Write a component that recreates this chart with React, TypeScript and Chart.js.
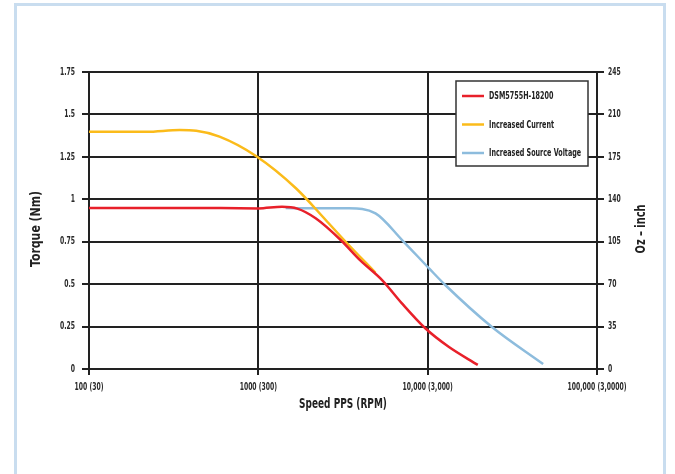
import React, { useEffect, useRef } from "react";
import { Chart, registerables } from "chart.js";

Chart.register(...registerables);

const xTickValues = [100, 1000, 10000, 100000];
const xTickLabels = ["100 (30)", "1000 (300)", "10,000 (3,000)", "100,000 (3,0000)"];

const seriesNames = ["DSM5755H-18200", "Increased Current", "Increased Source Voltage"];
const seriesColors = ["#e8202a", "#fbbb1a", "#8dbcdd"];

const redSpeed = [100, 300, 600, 1000, 1380, 1700, 2180, 3065, 4000, 5380, 7000, 9680, 13300, 19770];
const redTorque = [0.948, 0.948, 0.948, 0.946, 0.956, 0.945, 0.888, 0.76, 0.64, 0.524, 0.39, 0.24, 0.131, 0.024];

const yellowSpeed = [100, 218, 343, 430, 590, 968, 1667, 2500, 3206, 4921];
const yellowTorque = [1.398, 1.398, 1.408, 1.404, 1.369, 1.255, 1.065, 0.878, 0.76, 0.567];

const blueSpeed = [1450, 2200, 3434, 4921, 7060, 10190, 12700, 23870, 48080];
const blueTorque = [0.948, 0.947, 0.947, 0.917, 0.76, 0.593, 0.495, 0.249, 0.029];

const yLeftMax = 1.75;
const yLeftStep = 0.25;
const yRightMax = 245;
const yRightStep = 35;

const xTitle = "Speed PPS (RPM)";
const yLeftTitle = "Torque (Nm)";
const yRightTitle = "Oz \u2013 inch";

const FONT = "'DejaVu Sans', sans-serif";
const TICK_SX = 0.58;

const toPoints = (xs: number[], ys: number[]) => xs.map((x, i) => ({ x, y: ys[i] }));

// condensed text rendering: squeeze glyphs horizontally around their anchor
const condensePlugin = {
  id: "condense",
  beforeDraw(chart: any) {
    const ctx = chart.ctx as any;
    if (ctx.__patched) return;
    ctx.__patched = true;
    const orig = ctx.fillText.bind(ctx);
    ctx.fillText = (text: string, x: number, y: number) => {
      const sx = ctx.__sx ?? TICK_SX;
      ctx.save();
      ctx.translate(x, y);
      ctx.scale(sx, 1);
      orig(text, 0, 0);
      ctx.restore();
    };
  },
};

const overlayPlugin = {
  id: "overlay",
  afterDraw(chart: any) {
    const ctx = chart.ctx as any;
    const area = chart.chartArea;
    ctx.save();
    ctx.fillStyle = "#222";
    ctx.font = `bold 14px ${FONT}`;
    ctx.textAlign = "center";
    ctx.textBaseline = "middle";
    ctx.__sx = 0.64;
    ctx.fillText(xTitle, (area.left + area.right) / 2, 404);
    const cy = 229;
    ctx.save();
    ctx.translate(36, cy);
    ctx.rotate(-Math.PI / 2);
    ctx.__sx = 0.78;
    ctx.fillText(yLeftTitle, 0, 0);
    ctx.restore();
    ctx.save();
    ctx.translate(641, cy);
    ctx.rotate(-Math.PI / 2);
    ctx.__sx = 0.7;
    ctx.fillText(yRightTitle, 0, 0);
    ctx.restore();

    const bx = 456, by = 81, bw = 132, bh = 85;
    ctx.fillStyle = "#fff";
    ctx.fillRect(bx, by, bw, bh);
    ctx.strokeStyle = "#333";
    ctx.lineWidth = 1.5;
    ctx.strokeRect(bx, by, bw, bh);
    const rows = [96, 124.5, 153];
    ctx.font = `bold 10.5px ${FONT}`;
    ctx.textAlign = "left";
    ctx.__sx = 0.61;
    chart.data.datasets.forEach((ds: any, i: number) => {
      ctx.strokeStyle = ds.borderColor;
      ctx.lineWidth = 2.5;
      ctx.beginPath();
      ctx.moveTo(462, rows[i]);
      ctx.lineTo(484, rows[i]);
      ctx.stroke();
      ctx.fillStyle = "#222";
      ctx.fillText(ds.label, 489, rows[i] + 0.5);
    });
    ctx.__sx = undefined;
    ctx.restore();
  },
};

export default function App() {
  const canvasRef = useRef<HTMLCanvasElement | null>(null);

  useEffect(() => {
    if (!canvasRef.current) return;
    const mk = (i: number, xs: number[], ys: number[]) => ({
      label: seriesNames[i],
      data: toPoints(xs, ys),
      borderColor: seriesColors[i],
      backgroundColor: seriesColors[i],
      borderWidth: 2.5,
      pointRadius: 0,
      cubicInterpolationMode: "monotone" as const,
      fill: false,
      yAxisID: "y",
    });
    const tickFont = { family: FONT, size: 10.5, weight: "bold" as const };
    const chart = new Chart(canvasRef.current, {
      type: "line",
      data: {
        datasets: [
          mk(0, redSpeed, redTorque),
          mk(1, yellowSpeed, yellowTorque),
          mk(2, blueSpeed, blueTorque),
        ],
      },
      options: {
        animation: false,
        responsive: true,
        maintainAspectRatio: false,
        layout: { padding: { top: 72, left: 0, right: 0, bottom: 0 } },
        plugins: {
          legend: { display: false },
          tooltip: { enabled: false },
          title: { display: false },
        },
        scales: {
          x: {
            type: "logarithmic",
            min: 100,
            max: 100000,
            afterBuildTicks: (s: any) => {
              s.ticks = xTickValues.map((v) => ({ value: v }));
            },
            afterFit: (s: any) => {
              s.height = 105;
            },
            ticks: {
              autoSkip: false,
              maxRotation: 0,
              padding: 6,
              color: "#2a2a2a",
              font: tickFont,
              callback: (v: any) => {
                const idx = xTickValues.indexOf(Number(v));
                return idx >= 0 ? xTickLabels[idx] : "";
              },
            },
            grid: { color: "#222", lineWidth: 2, tickLength: 6 },
            border: { display: true, color: "#222", width: 2 },
          },
          y: {
            position: "left",
            min: 0,
            max: yLeftMax,
            afterFit: (s: any) => {
              s.width = 89;
            },
            ticks: {
              stepSize: yLeftStep,
              padding: 7,
              color: "#2a2a2a",
              font: tickFont,
              callback: (v: any) => String(Number(v)),
            },
            grid: { color: "#222", lineWidth: 2, tickLength: 7 },
            border: { display: true, color: "#222", width: 2 },
          },
          y2: {
            position: "right",
            min: 0,
            max: yRightMax,
            afterFit: (s: any) => {
              s.width = 78;
            },
            ticks: {
              stepSize: yRightStep,
              padding: 4,
              color: "#2a2a2a",
              font: tickFont,
            },
            grid: { drawOnChartArea: false, drawTicks: true, color: "#222", lineWidth: 2, tickLength: 7 },
            border: { display: true, color: "#222", width: 2 },
          },
        },
      },
      plugins: [condensePlugin, overlayPlugin],
    });
    return () => chart.destroy();
  }, []);

  return (
    <div style={{ position: "fixed", left: 0, top: 0, width: 675, height: 474, background: "#fff", overflow: "hidden" }}>
      <div
        style={{
          position: "absolute",
          left: 14,
          top: 3,
          width: 652,
          height: 500,
          border: "3px solid #c9ddef",
          borderBottom: "none",
          boxSizing: "border-box",
        }}
      />
      <div style={{ position: "absolute", left: 0, top: 0, width: 675, height: 474 }}>
        <canvas ref={canvasRef} />
      </div>
    </div>
  );
}
